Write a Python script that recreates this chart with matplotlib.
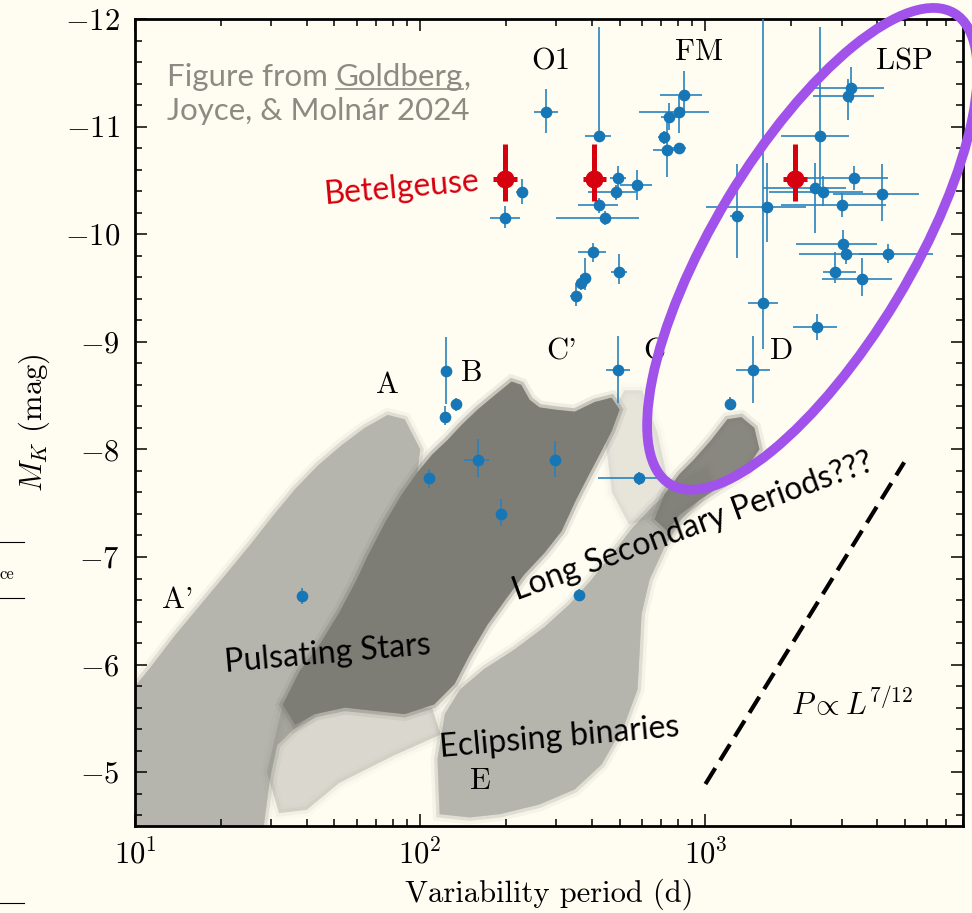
import matplotlib
matplotlib.use("Agg")
import matplotlib.pyplot as plt
import matplotlib.ticker as mticker
import matplotlib.transforms as mtransforms
import matplotlib.patheffects as pe
from matplotlib.patches import Ellipse
from matplotlib.lines import Line2D
import numpy as np

plt.rcParams.update({
    "font.family": "serif",
    "font.serif": ["cmr10"],
    "mathtext.fontset": "cm",
    "axes.formatter.use_mathtext": True,
    "axes.unicode_minus": True,
})

BG = "#fffdf1"
BLUE = "#1776b6"
BLUE_ERR = "#2a83bf"
RED = "#d6000f"
PURPLE = "#a052ea"
GREY_TEXT = "#8b8b83"
DARK_CLOUD = "#7d7c75"
LIGHT_CLOUD = "#b6b5ad"

# ---------------------------------------------------------------------------
# Red supergiant / LPV comparison sample: period (d), M_K (mag)
# ---------------------------------------------------------------------------
lpv_period = [275, 228, 199, 423, 493, 486, 577, 425, 445, 405,
              496, 377, 367, 351, 843, 811, 743, 713, 732, 805,
              1588, 1640, 1287, 2522, 2427, 2576, 3236, 3151, 3311, 4145,
              3013, 3041, 3108, 4352, 2852, 3540, 2471, 123.5, 133, 122,
              107, 159, 192, 297, 494, 584, 1223, 1465, 359, 38.4]
lpv_period_err_lo = [25, 11, 24, 46, 31, 99, 77, 68, 145, 48,
                     31, 15, 14, 16, 148, 227, 46, 33, 78, 47,
                     181, 634, 71, 681, 839, 900, 867, 775, 1144, 1351,
                     1171, 964, 975, 887, 278, 970, 451, 3, 4, 4,
                     3.5, 17, 6, 12, 46, 164, 20, 188, 3, 1]
lpv_period_err_hi = [28, 11, 25, 44, 33, 85, 74, 68, 140, 44,
                     33, 15, 15, 17, 132, 222, 50, 35, 101, 50,
                     204, 613, 75, 654, 682, 981, 987, 756, 1043, 1443,
                     1284, 970, 1420, 1902, 519, 970, 425, 3, 4, 4,
                     3.5, 15, 6, 12, 50, 148, 20, 215, 3, 1]
lpv_mag = [-11.14, -10.39, -10.15, -10.91, -10.52, -10.39, -10.46, -10.27, -10.15, -9.83,
           -9.65, -9.59, -9.55, -9.43, -11.29, -11.14, -11.09, -10.90, -10.78, -10.80,
           -9.36, -10.25, -10.17, -10.91, -10.43, -10.39, -11.36, -11.28, -10.52, -10.37,
           -10.27, -9.91, -9.82, -9.82, -9.65, -9.58, -9.14, -8.73, -8.42, -8.30,
           -7.73, -7.90, -7.40, -7.90, -8.74, -7.73, -8.42, -8.74, -6.65, -6.64]
lpv_mag_err_bright = [0.21, 0.12, 0.11, 1.02, 0.11, 0.07, 0.14, 0.07, 0.065, 0.09,
                      0.17, 0.19, 0.07, 0.12, 0.23, 0.14, 0.13, 0.06, 0.28, 0.05,
                      3.0, 0.41, 0.48, 1.02, 0.23, 0.15, 0.19, 0.16, 0.11, 0.28,
                      0.11, 0.13, 0.10, 0.09, 0.18, 0.20, 0.12, 0.31, 0.06, 0.10,
                      0.09, 0.20, 0.14, 0.18, 0.31, 0.06, 0.07, 0.31, 0.05, 0.075]
lpv_mag_err_faint = [0.20, 0.11, 0.09, 0.05, 0.11, 0.07, 0.14, 0.07, 0.065, 0.09,
                     0.11, 0.11, 0.07, 0.10, 0.16, 0.20, 0.12, 0.06, 0.25, 0.05,
                     0.43, 0.32, 0.39, 0.45, 0.42, 0.13, 0.14, 0.22, 0.11, 0.25,
                     0.11, 0.09, 0.10, 0.09, 0.10, 0.15, 0.12, 0.31, 0.06, 0.07,
                     0.09, 0.16, 0.11, 0.16, 0.31, 0.06, 0.03, 0.31, 0.05, 0.075]

# Betelgeuse: overtone, fundamental mode and long secondary period
betelgeuse_period = [198, 408, 2065]
betelgeuse_period_err_lo = [18, 37, 187]
betelgeuse_period_err_hi = [20, 41, 207]
betelgeuse_mag = [-10.51, -10.51, -10.51]
betelgeuse_mag_err_bright = [0.33, 0.33, 0.33]
betelgeuse_mag_err_faint = [0.20, 0.20, 0.20]

# Outlines of the OGLE LMC sequences (period in d, M_K in mag)
seq_light_period = [9.2, 9.2, 11.3, 13.8, 16.9, 20.7, 25.3, 30.2, 36.4, 43.8, 53.1,
                    63.9, 76.9, 88.2, 100, 95, 80, 65, 52, 45, 36, 31.5, 29.7, 27.9]
seq_light_mag = [-4.38, -5.68, -5.97, -6.27, -6.55, -6.83, -7.11, -7.37, -7.63, -7.85, -8.04,
                 -8.20, -8.32, -8.28, -8.00, -7.53, -6.98, -6.42, -5.96, -5.60, -5.40,
                 -5.25, -4.93, -4.38]

seq_dark_period = [33.0, 37.8, 44.5, 52.2, 59.4, 65.5, 75.7, 86.1, 98.0, 110, 125, 140,
                   159, 182, 209, 226, 242, 262, 296, 348, 409, 469, 500, 469, 425, 386,
                   350, 313, 273, 232, 201, 172, 149, 132, 112, 88.2, 69.3, 54.4, 42.7, 36.4]
seq_dark_mag = [-5.63, -5.94, -6.19, -6.49, -6.77, -7.01, -7.33, -7.58, -7.79, -7.95, -8.09, -8.23,
                -8.37, -8.50, -8.63, -8.60, -8.46, -8.39, -8.37, -8.35, -8.44, -8.48, -8.37, -8.17,
                -7.95, -7.74, -7.52, -7.24, -7.04, -6.84, -6.62, -6.37, -6.09, -5.82, -5.63, -5.54,
                -5.57, -5.60, -5.54, -5.44]

# scattered fainter members below the dense part of the A/B/C' sequences
seq_dark_sparse_period = [29.0, 33.0, 70, 110, 118, 80, 52, 40, 32]
seq_dark_sparse_mag = [-5.00, -5.63, -5.58, -5.60, -5.35, -5.15, -4.90, -4.65, -4.62]

# scattered stars linking C' to the LSP sequence
seq_link_period = [440, 520, 600, 680, 740, 700, 620, 540, 470]
seq_link_mag = [-8.20, -8.55, -8.55, -8.15, -7.70, -7.42, -7.35, -7.30, -7.60]

lsp_dark_period = [663, 718, 811, 915, 1050, 1194, 1337, 1485, 1546, 1370, 1119, 953, 811, 736]
lsp_dark_mag = [-7.35, -7.58, -7.77, -7.91, -8.09, -8.28, -8.30, -8.20, -8.00, -7.79,
                -7.65, -7.53, -7.39, -7.24]

binary_period = [117, 115, 122, 138, 168, 214, 273, 334, 399, 469, 551, 647, 760, 879, 1016,
                 1050, 953, 824, 718, 637, 597, 587, 578, 520, 432, 348, 262, 190, 149]
binary_mag = [-4.61, -5.12, -5.54, -5.77, -5.96, -6.14, -6.35, -6.56, -6.79, -7.02, -7.26,
              -7.46, -7.63, -7.76, -7.83, -7.72, -7.53, -7.35, -7.09, -6.79, -6.47, -6.09,
              -5.77, -5.44, -5.07, -4.84, -4.70, -4.61, -4.58]

# P ~ L^(7/12) guide line
scaling_period = [1000, 4977]
scaling_mag = [-4.89, -7.88]

# LSP region highlight (centre in data units)
lsp_center_period = 2370
lsp_center_mag = -9.864

# Sequence labels
seq_labels = ["O1", "FM", "LSP", "A", "B", "C'", "C", "D", "A'", "E"]
seq_label_period = [286, 953, 4977, 76.9, 151.5, 313, 663, 1846, 14.15, 162]
seq_label_mag = [-11.60, -11.69, -11.60, -8.60, -8.71, -8.91, -8.91, -8.91, -6.60, -4.92]


def soft_fill(ax, period, mag, colour, zorder, alpha=1.0):
    """Filled outline with a feathered edge so it reads like a dense point cloud."""
    ax.fill(period, mag, color=colour, alpha=alpha, lw=0, zorder=zorder,
            path_effects=[pe.Stroke(linewidth=10, foreground=colour, alpha=0.12 * alpha),
                          pe.Stroke(linewidth=5, foreground=colour, alpha=0.35 * alpha),
                          pe.Normal()])


fig = plt.figure(figsize=(9.72, 9.13), dpi=100, facecolor=BG)
ax = fig.add_axes([135 / 972, 1 - 826 / 913, 828 / 972, 807 / 913])
ax.set_facecolor(BG)
ax.set_xscale("log")

# sequences
soft_fill(ax, seq_light_period, seq_light_mag, LIGHT_CLOUD, 1)
soft_fill(ax, binary_period, binary_mag, LIGHT_CLOUD, 1)
soft_fill(ax, seq_dark_sparse_period, seq_dark_sparse_mag, DARK_CLOUD, 1.5, alpha=0.2)
soft_fill(ax, seq_link_period, seq_link_mag, DARK_CLOUD, 1.5, alpha=0.12)
soft_fill(ax, seq_dark_period, seq_dark_mag, DARK_CLOUD, 2)
soft_fill(ax, lsp_dark_period, lsp_dark_mag, DARK_CLOUD, 2, alpha=0.85)

# comparison stars
ax.errorbar(lpv_period, lpv_mag,
            xerr=[lpv_period_err_lo, lpv_period_err_hi],
            yerr=[lpv_mag_err_bright, lpv_mag_err_faint],
            fmt="o", ms=7.4, color=BLUE, ecolor=BLUE_ERR, elinewidth=1.2,
            capsize=0, zorder=4)

# Betelgeuse
ax.errorbar(betelgeuse_period, betelgeuse_mag,
            xerr=[betelgeuse_period_err_lo, betelgeuse_period_err_hi],
            yerr=[betelgeuse_mag_err_bright, betelgeuse_mag_err_faint],
            fmt="o", ms=12, color=RED, ecolor=RED, elinewidth=3.6,
            capsize=0, zorder=5)

# scaling relation
ax.plot(scaling_period, scaling_mag, color="k", lw=3, dashes=(4.5, 2.2), zorder=3)
ax.text(2000, -5.63, r"$P \propto L^{7/12}$", fontsize=22, ha="left", va="center")

# sequence labels
for label, per, mag in zip(seq_labels, seq_label_period, seq_label_mag):
    ax.text(per, mag, label, fontsize=22, ha="center", va="center", zorder=3.5)

# annotations
sans = dict(family="Lato", fontsize=23, ha="center", va="center",
            rotation_mode="anchor", zorder=5)
ax.text(86.1, -10.43, "Betelgeuse", color=RED, rotation=5, **sans)
ax.text(47.4, -6.10, "Pulsating Stars", color="k", rotation=5, **sans)
ax.text(901, -7.28, "Long Secondary Periods???", color="k", rotation=20, **sans)
ax.text(308, -5.32, "Eclipsing binaries", color="k", rotation=5, **sans)

# LSP highlight, sized in inches around its data centre
ell_trans = fig.dpi_scale_trans + mtransforms.ScaledTranslation(
    lsp_center_period, lsp_center_mag, ax.transData)
ax.add_patch(Ellipse((0, 0), width=5.50, height=1.97, angle=58.9,
                     transform=ell_trans, fill=False, ec=PURPLE, lw=7,
                     clip_on=False, zorder=6))

ax.set_xlim(10, 8000)
ax.set_ylim(-4.5, -12)

ax.xaxis.set_major_locator(mticker.LogLocator(base=10, numticks=10))
ax.xaxis.set_minor_locator(mticker.LogLocator(base=10, subs=np.arange(2, 10), numticks=30))
ax.xaxis.set_major_formatter(mticker.LogFormatterMathtext())
ax.xaxis.set_minor_formatter(mticker.NullFormatter())
ax.yaxis.set_major_locator(mticker.MultipleLocator(1))
ax.yaxis.set_minor_locator(mticker.MultipleLocator(0.2))
ax.tick_params(which="both", direction="in", top=True, right=True, width=1.1, colors="k")
ax.tick_params(which="major", length=8.5, labelsize=22)
ax.tick_params(which="minor", length=4.8)
ax.tick_params(axis="x", pad=9)
ax.tick_params(axis="y", pad=11)
for spine in ax.spines.values():
    spine.set_linewidth(2)

ax.set_xlabel("Variability period (d)", fontsize=22, labelpad=6)
ax.set_ylabel(r"$M_K$ (mag)", fontsize=22, labelpad=9)

# credit line with underlined author
renderer = fig.canvas.get_renderer()
credit = dict(color=GREY_TEXT, fontsize=22.5, family="Lato", va="baseline")
t1 = fig.text(167 / 972, 1 - 86 / 913, "Figure from ", **credit)
bb1 = t1.get_window_extent(renderer)
t2 = fig.text(bb1.x1 / fig.bbox.width, 1 - 86 / 913, "Goldberg", **credit)
bb2 = t2.get_window_extent(renderer)
fig.text(bb2.x1 / fig.bbox.width, 1 - 86 / 913, ",", **credit)
y_line = (1 - 86 / 913) - 3 / 913
fig.add_artist(Line2D([bb2.x0 / fig.bbox.width, bb2.x1 / fig.bbox.width], [y_line, y_line],
                      transform=fig.transFigure, color=GREY_TEXT, lw=1.2))
fig.text(167 / 972, 1 - 120 / 913, "Joyce, & Molnár 2024", **credit)

# edge of the neighbouring panel's legend
for yy in (542, 598, 903):
    fig.add_artist(Line2D([0, 24 / 972], [1 - yy / 913] * 2, transform=fig.transFigure,
                          color="k", lw=0.8))
fig.text(0, 1 - 574 / 913, "ce", fontsize=12, va="center", ha="left")

fig.savefig("out.png", dpi=100, facecolor=BG)
